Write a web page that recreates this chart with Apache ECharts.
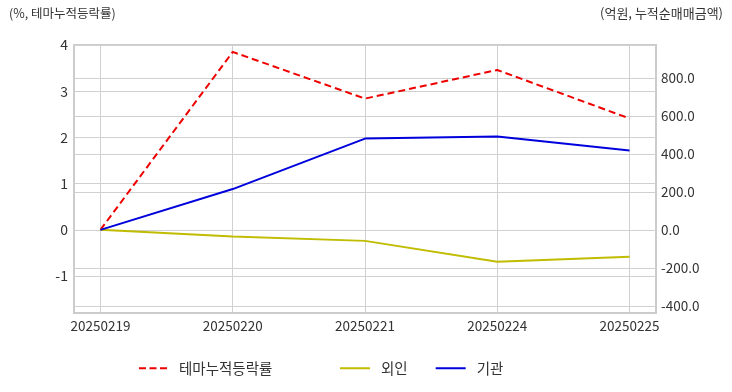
<!DOCTYPE html>
<html><head><meta charset="utf-8">
<script src="https://cdn.jsdelivr.net/npm/echarts@6/dist/echarts.min.js"></script>
<style>html,body{margin:0;padding:0;background:#fff}#c{width:732px;height:392px}</style>
</head><body><div id="c"></div>
<script>
const categories = ['20250219','20250220','20250221','20250224','20250225'];
const themeReturn = [0, 3.85, 2.84, 3.46, 2.41];
const foreign = [0, -35, -58, -168, -141];
const institution = [0, 215, 481, 492, 418];
const leftTicks = [-1, 0, 1, 2, 3, 4];
const rightTicks = [-400, -200, 0, 200, 400, 600, 800];
const idx = categories.map((_, i) => i);

const FONT = '"Noto Sans CJK KR", "Noto Sans", sans-serif';
const chart = echarts.init(document.getElementById('c'));
chart.setOption({
  animation: false,
  textStyle: {fontFamily: FONT},
  grid: {left: 74, right: 76, top: 45, bottom: 79, show: true, borderColor: '#cccccc', borderWidth: 2},
  graphic: [
    {type: 'text', left: 9, top: 7, style: {text: '(%, 테마누적등락률)', font: '12.5px ' + FONT, fill: '#333'}},
    {type: 'text', right: 9, top: 7, style: {text: '(억원, 누적순매매금액)', font: '13px ' + FONT, fill: '#333'}}
  ],
  xAxis: {
    type: 'value', min: -0.2, max: 4.2,
    axisLine: {show: false},
    axisTick: {show: false, customValues: idx},
    axisLabel: {customValues: idx, formatter: v => categories[v], color: '#333', fontSize: 13.5, margin: 6},
    splitLine: {show: true, lineStyle: {color: '#d0d0d0', width: 1}}
  },
  yAxis: [
    {type: 'value', min: -1.8, max: 4,
     axisLine: {show: false}, axisTick: {show: false, customValues: leftTicks},
     axisLabel: {customValues: leftTicks, color: '#333', fontSize: 14, margin: 6},
     splitLine: {show: true, lineStyle: {color: '#d0d0d0', width: 1}}},
    {type: 'value', min: -438, max: 974, position: 'right',
     axisLine: {show: false}, axisTick: {show: false, customValues: rightTicks},
     axisLabel: {customValues: rightTicks, formatter: v => v.toFixed(1), color: '#333', fontSize: 13.5, margin: 5},
     splitLine: {show: true, lineStyle: {color: '#d0d0d0', width: 1}}}
  ],
  legend: [
    {left: 139, top: 361, padding: 0, itemWidth: 28, itemHeight: 10, textStyle: {fontSize: 14.5, color: '#333', fontFamily: FONT, padding: [0, 0, 0, 7]},
     data: [{name: '테마누적등락률', icon: 'path://M0,4h7v2h-7z M10.5,4h7v2h-7z M21,4h7v2h-7z'}]},
    {left: 340, top: 361, padding: 0, itemWidth: 30, itemHeight: 10, itemGap: 28, textStyle: {fontSize: 14.5, color: '#333', fontFamily: FONT, padding: [0, 0, 0, 6]},
     data: [{name: '외인', icon: 'path://M0,4h30v2h-30z'}, {name: '기관', icon: 'path://M0,4h30v2h-30z'}]}
  ],
  series: [
    {name: '테마누적등락률', type: 'line', yAxisIndex: 0, showSymbol: false, symbol: 'none',
     itemStyle: {color: '#ee0000'}, lineStyle: {color: '#ee0000', width: 2, type: [7, 4]},
     data: idx.map(i => [i, themeReturn[i]])},
    {name: '외인', type: 'line', yAxisIndex: 1, showSymbol: false, symbol: 'none',
     itemStyle: {color: '#c0bc00'}, lineStyle: {color: '#c0bc00', width: 2},
     data: idx.map(i => [i, foreign[i]])},
    {name: '기관', type: 'line', yAxisIndex: 1, showSymbol: false, symbol: 'none',
     itemStyle: {color: '#0000dd'}, lineStyle: {color: '#0000dd', width: 2},
     data: idx.map(i => [i, institution[i]])}
  ]
});
</script></body></html>
